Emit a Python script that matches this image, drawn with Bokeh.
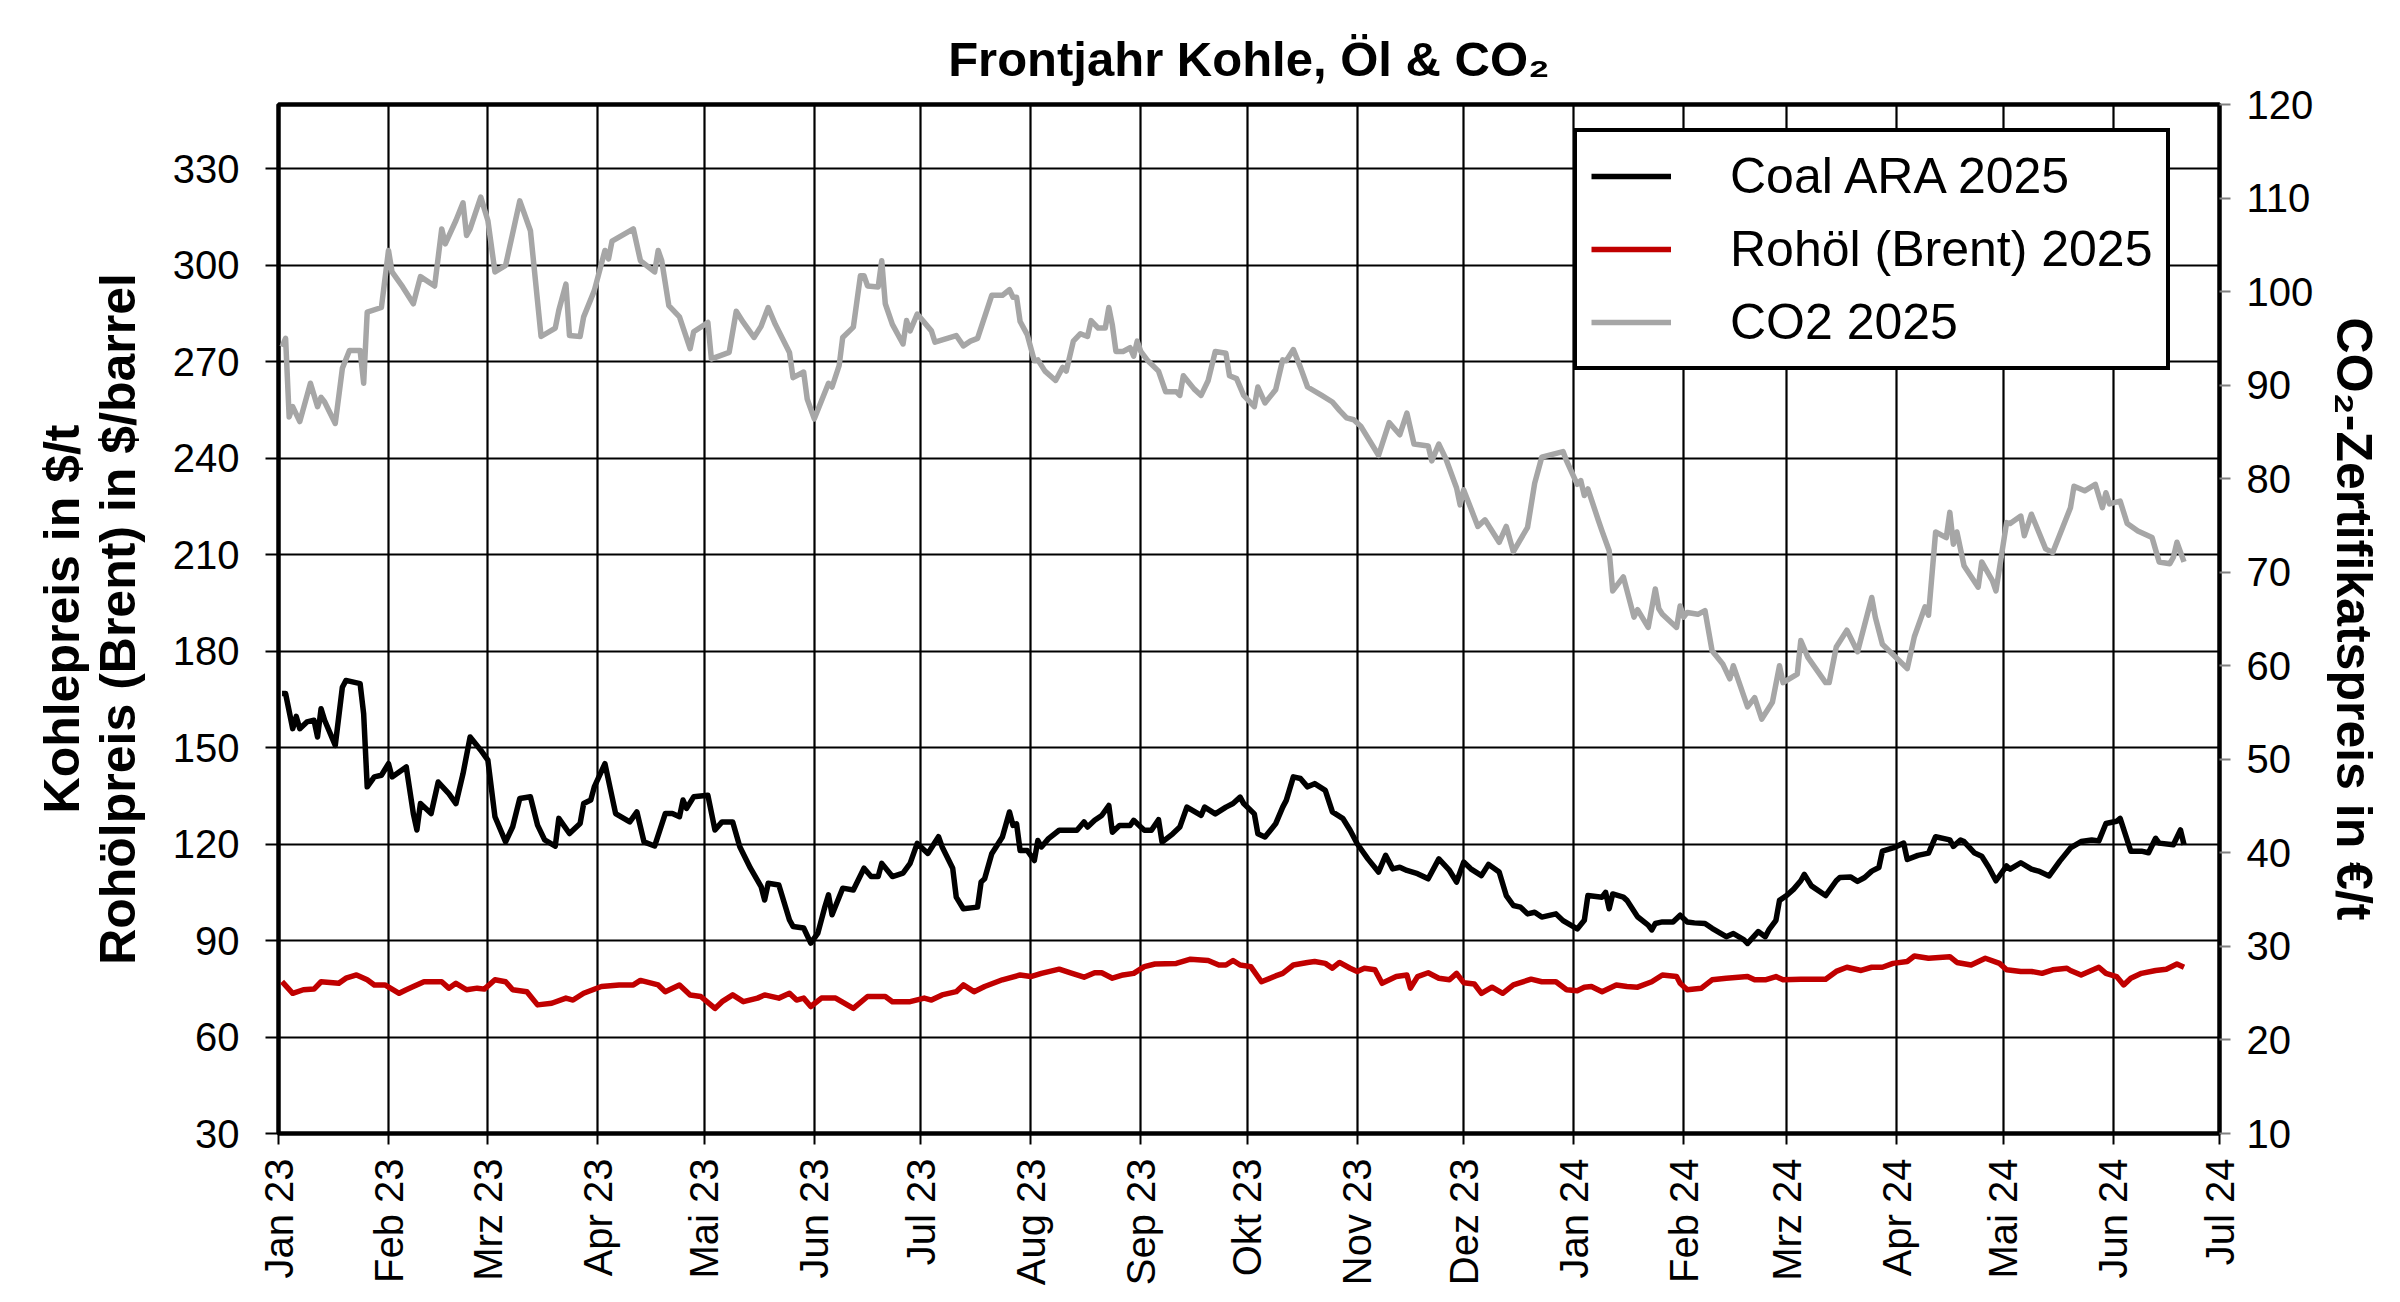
import numpy as np
import pandas as pd
from bokeh.plotting import figure
from bokeh.models import (Range1d, LinearAxis, FixedTicker, CustomJSTickFormatter,
                          Legend, LegendItem)
from bokeh.embed import file_html
from bokeh.resources import INLINE

# ---------------- data ----------------
coal_dates = [
    "2023-01-02", "2023-01-03", "2023-01-05", "2023-01-06", "2023-01-07", "2023-01-09", "2023-01-11",
    "2023-01-12", "2023-01-13", "2023-01-14", "2023-01-17", "2023-01-19", "2023-01-20", "2023-01-24",
    "2023-01-25", "2023-01-26", "2023-01-28", "2023-01-30", "2023-02-01", "2023-02-02", "2023-02-06",
    "2023-02-08", "2023-02-09", "2023-02-10", "2023-02-13", "2023-02-15", "2023-02-18", "2023-02-20",
    "2023-02-22", "2023-02-24", "2023-02-27", "2023-03-01", "2023-03-03", "2023-03-06", "2023-03-08",
    "2023-03-10", "2023-03-13", "2023-03-15", "2023-03-17", "2023-03-20", "2023-03-21", "2023-03-24",
    "2023-03-27", "2023-03-28", "2023-03-30", "2023-03-31", "2023-04-03", "2023-04-06", "2023-04-10",
    "2023-04-12", "2023-04-14", "2023-04-17", "2023-04-20", "2023-04-22", "2023-04-24", "2023-04-25",
    "2023-04-26", "2023-04-28", "2023-05-02", "2023-05-04", "2023-05-06", "2023-05-09", "2023-05-11",
    "2023-05-14", "2023-05-17", "2023-05-18", "2023-05-19", "2023-05-22", "2023-05-25", "2023-05-26",
    "2023-05-29", "2023-05-31", "2023-06-02", "2023-06-04", "2023-06-05", "2023-06-06", "2023-06-09",
    "2023-06-12", "2023-06-15", "2023-06-17", "2023-06-19", "2023-06-20", "2023-06-23", "2023-06-26",
    "2023-06-28", "2023-06-30", "2023-07-03", "2023-07-06", "2023-07-07", "2023-07-10", "2023-07-11",
    "2023-07-13", "2023-07-17", "2023-07-18", "2023-07-19", "2023-07-21", "2023-07-24", "2023-07-26",
    "2023-07-27", "2023-07-28", "2023-07-29", "2023-07-31", "2023-08-02", "2023-08-03", "2023-08-04",
    "2023-08-06", "2023-08-09", "2023-08-14", "2023-08-16", "2023-08-17", "2023-08-19", "2023-08-21",
    "2023-08-23", "2023-08-24", "2023-08-26", "2023-08-29", "2023-08-30", "2023-09-01", "2023-09-02",
    "2023-09-04", "2023-09-06", "2023-09-07", "2023-09-10", "2023-09-12", "2023-09-14", "2023-09-18",
    "2023-09-19", "2023-09-22", "2023-09-25", "2023-09-27", "2023-09-29", "2023-09-30", "2023-10-03",
    "2023-10-04", "2023-10-06", "2023-10-09", "2023-10-11", "2023-10-12", "2023-10-14", "2023-10-16",
    "2023-10-18", "2023-10-20", "2023-10-23", "2023-10-25", "2023-10-28", "2023-10-30", "2023-11-01",
    "2023-11-04", "2023-11-07", "2023-11-09", "2023-11-11", "2023-11-13", "2023-11-15", "2023-11-18",
    "2023-11-21", "2023-11-24", "2023-11-27", "2023-11-29", "2023-12-01", "2023-12-03", "2023-12-06",
    "2023-12-08", "2023-12-11", "2023-12-13", "2023-12-15", "2023-12-17", "2023-12-19", "2023-12-21",
    "2023-12-23", "2023-12-27", "2023-12-29", "2024-01-02", "2024-01-04", "2024-01-05", "2024-01-09",
    "2024-01-10", "2024-01-11", "2024-01-12", "2024-01-15", "2024-01-16", "2024-01-19", "2024-01-22",
    "2024-01-23", "2024-01-24", "2024-01-26", "2024-01-29", "2024-01-31", "2024-02-02", "2024-02-04",
    "2024-02-07", "2024-02-09", "2024-02-13", "2024-02-15", "2024-02-18", "2024-02-19", "2024-02-22",
    "2024-02-24", "2024-02-25", "2024-02-27", "2024-02-28", "2024-03-01", "2024-03-03", "2024-03-05",
    "2024-03-06", "2024-03-08", "2024-03-12", "2024-03-15", "2024-03-16", "2024-03-19", "2024-03-21",
    "2024-03-23", "2024-03-25", "2024-03-27", "2024-03-28", "2024-03-31", "2024-04-03", "2024-04-04",
    "2024-04-07", "2024-04-10", "2024-04-12", "2024-04-16", "2024-04-17", "2024-04-19", "2024-04-20",
    "2024-04-23", "2024-04-25", "2024-04-27", "2024-04-29", "2024-05-02", "2024-05-03", "2024-05-06",
    "2024-05-09", "2024-05-11", "2024-05-14", "2024-05-17", "2024-05-20", "2024-05-23", "2024-05-26",
    "2024-05-28", "2024-05-30", "2024-06-02", "2024-06-03", "2024-06-06", "2024-06-09", "2024-06-11",
    "2024-06-13", "2024-06-14", "2024-06-18", "2024-06-20", "2024-06-21",
]
coal_values = [
    166.8, 166.8, 155.9, 159.7, 155.9, 158.0, 158.5,
    153.3, 162.1, 158.5, 150.7, 168.8, 170.9, 169.9,
    160.5, 137.8, 140.9, 141.4, 145.0, 140.9, 144.0,
    129.5, 124.4, 132.6, 129.5, 139.3, 135.7, 132.6,
    141.9, 153.3, 149.2, 146.1, 128.5, 120.7, 125.4,
    134.2, 134.7, 125.9, 121.3, 119.4, 128.0, 123.3,
    126.4, 132.6, 133.7, 137.8, 145.0, 129.5, 126.9,
    130.0, 120.7, 119.4, 129.5, 129.5, 128.5, 133.7,
    131.1, 134.7, 135.2, 124.4, 126.9, 126.9, 119.2,
    112.5, 106.8, 102.6, 107.8, 107.3, 96.4, 94.4,
    93.9, 89.2, 92.3, 100.6, 104.2, 98.0, 106.3,
    105.7, 112.5, 109.9, 109.9, 114.0, 109.9, 111.0,
    114.0, 120.2, 117.1, 122.3, 119.2, 112.5, 103.5,
    99.9, 100.4, 108.2, 109.2, 117.0, 122.2, 130.0,
    125.8, 126.3, 118.0, 118.0, 114.9, 121.1, 119.1,
    121.7, 124.3, 124.3, 126.9, 125.3, 127.4, 128.9,
    132.0, 123.7, 125.8, 125.8, 127.4, 125.3, 124.3,
    124.3, 127.6, 120.6, 123.2, 125.3, 131.5, 128.9,
    131.5, 129.4, 131.5, 132.6, 134.6, 132.6, 129.4,
    123.2, 122.2, 126.3, 131.5, 133.6, 140.9, 140.4,
    137.8, 138.8, 136.7, 130.0, 127.9, 124.3, 120.1,
    115.4, 111.3, 116.5, 112.3, 112.8, 111.8, 110.8,
    109.2, 115.4, 111.8, 108.2, 114.4, 112.3, 110.2,
    113.7, 111.3, 104.0, 100.9, 100.4, 98.3, 98.8,
    97.3, 98.3, 96.2, 93.6, 96.3, 104.0, 103.5,
    105.0, 99.9, 104.5, 103.5, 102.5, 97.4, 94.8,
    93.3, 95.3, 95.8, 95.8, 97.9, 95.8, 95.5,
    95.3, 93.8, 91.2, 92.2, 90.2, 89.1, 92.8,
    91.2, 93.3, 96.3, 102.5, 104.0, 106.0, 108.6,
    110.6, 107.0, 104.0, 108.6, 109.6, 109.8, 108.4,
    109.6, 111.6, 112.7, 117.8, 118.8, 120.3, 115.2,
    116.5, 117.2, 122.3, 121.3, 119.3, 121.3, 120.8,
    117.2, 116.2, 112.7, 108.6, 113.2, 112.2, 114.2,
    112.2, 111.6, 110.1, 114.7, 118.8, 120.8, 121.3,
    121.0, 126.4, 127.1, 128.0, 117.8, 117.8, 117.3,
    121.8, 120.3, 119.8, 124.4, 119.8,
]

oil_dates = [
    "2023-01-02", "2023-01-05", "2023-01-08", "2023-01-11", "2023-01-13", "2023-01-18", "2023-01-20",
    "2023-01-23", "2023-01-26", "2023-01-28", "2023-01-31", "2023-02-04", "2023-02-06", "2023-02-08",
    "2023-02-11", "2023-02-16", "2023-02-18", "2023-02-20", "2023-02-23", "2023-02-26", "2023-02-28",
    "2023-03-03", "2023-03-06", "2023-03-08", "2023-03-12", "2023-03-15", "2023-03-19", "2023-03-23",
    "2023-03-25", "2023-03-28", "2023-04-02", "2023-04-07", "2023-04-11", "2023-04-13", "2023-04-18",
    "2023-04-20", "2023-04-24", "2023-04-27", "2023-04-30", "2023-05-04", "2023-05-06", "2023-05-09",
    "2023-05-12", "2023-05-16", "2023-05-18", "2023-05-22", "2023-05-25", "2023-05-27", "2023-05-29",
    "2023-05-31", "2023-06-03", "2023-06-07", "2023-06-12", "2023-06-16", "2023-06-21", "2023-06-23",
    "2023-06-28", "2023-07-02", "2023-07-04", "2023-07-07", "2023-07-11", "2023-07-13", "2023-07-16",
    "2023-07-19", "2023-07-24", "2023-07-29", "2023-08-01", "2023-08-04", "2023-08-09", "2023-08-12",
    "2023-08-16", "2023-08-19", "2023-08-21", "2023-08-24", "2023-08-27", "2023-08-30", "2023-09-02",
    "2023-09-05", "2023-09-11", "2023-09-15", "2023-09-20", "2023-09-23", "2023-09-25", "2023-09-27",
    "2023-09-29", "2023-10-02", "2023-10-05", "2023-10-09", "2023-10-11", "2023-10-14", "2023-10-18",
    "2023-10-20", "2023-10-23", "2023-10-25", "2023-10-27", "2023-10-30", "2023-11-01", "2023-11-03",
    "2023-11-06", "2023-11-08", "2023-11-12", "2023-11-15", "2023-11-16", "2023-11-18", "2023-11-21",
    "2023-11-24", "2023-11-27", "2023-11-29", "2023-12-01", "2023-12-04", "2023-12-06", "2023-12-09",
    "2023-12-12", "2023-12-15", "2023-12-20", "2023-12-23", "2023-12-27", "2023-12-30", "2024-01-02",
    "2024-01-04", "2024-01-06", "2024-01-09", "2024-01-13", "2024-01-16", "2024-01-19", "2024-01-23",
    "2024-01-26", "2024-01-30", "2024-01-31", "2024-02-02", "2024-02-06", "2024-02-09", "2024-02-13",
    "2024-02-19", "2024-02-21", "2024-02-24", "2024-02-27", "2024-02-29", "2024-03-05", "2024-03-12",
    "2024-03-15", "2024-03-18", "2024-03-22", "2024-03-25", "2024-03-28", "2024-03-31", "2024-04-04",
    "2024-04-06", "2024-04-10", "2024-04-16", "2024-04-18", "2024-04-22", "2024-04-26", "2024-04-30",
    "2024-05-02", "2024-05-06", "2024-05-09", "2024-05-12", "2024-05-15", "2024-05-19", "2024-05-20",
    "2024-05-23", "2024-05-28", "2024-05-30", "2024-06-02", "2024-06-04", "2024-06-06", "2024-06-09",
    "2024-06-13", "2024-06-16", "2024-06-19", "2024-06-21",
]
oil_values = [
    77.2, 73.6, 74.7, 74.9, 77.2, 76.7, 78.3,
    79.3, 77.8, 76.2, 76.2, 73.6, 74.7, 75.7,
    77.2, 77.2, 75.2, 76.7, 74.7, 75.2, 74.9,
    77.8, 77.2, 74.7, 74.1, 70.0, 70.5, 72.1,
    71.5, 73.6, 75.7, 76.2, 76.2, 77.6, 76.2,
    74.1, 76.2, 73.1, 72.6, 68.9, 71.0, 73.1,
    71.0, 72.1, 73.1, 72.1, 73.6, 71.5, 72.1,
    69.5, 72.1, 72.1, 68.9, 72.6, 72.6, 71.0,
    71.0, 72.1, 71.5, 73.1, 74.1, 76.2, 74.1,
    75.7, 77.8, 79.3, 78.8, 79.8, 81.1, 80.0,
    78.6, 80.0, 80.0, 78.3, 79.3, 79.8, 81.9,
    82.7, 82.9, 84.2, 83.8, 82.4, 82.4, 83.8,
    82.4, 81.9, 77.2, 79.0, 79.8, 82.4, 83.2,
    83.5, 82.9, 81.4, 83.2, 81.4, 80.4, 81.4,
    80.9, 76.7, 78.8, 79.3, 75.2, 78.8, 80.0,
    78.3, 77.8, 79.8, 76.9, 76.5, 73.6, 75.5,
    73.6, 76.2, 78.0, 77.2, 77.2, 74.7, 74.4,
    75.5, 75.7, 74.1, 76.2, 75.7, 75.5, 77.2,
    79.3, 78.8, 76.7, 74.7, 75.2, 77.8, 78.3,
    78.8, 77.8, 77.8, 78.8, 77.8, 78.0, 78.0,
    80.4, 81.7, 80.7, 81.7, 81.7, 82.9, 83.5,
    85.2, 84.5, 85.0, 83.2, 82.4, 84.5, 82.9,
    80.9, 80.4, 80.4, 79.8, 80.9, 81.4, 80.7,
    79.3, 81.7, 79.8, 78.8, 76.2, 78.3, 79.8,
    80.7, 81.1, 82.7, 81.7,
]

co2_dates = [
    "2023-01-02", "2023-01-03", "2023-01-04", "2023-01-05", "2023-01-07", "2023-01-10", "2023-01-12",
    "2023-01-13", "2023-01-14", "2023-01-17", "2023-01-19", "2023-01-21", "2023-01-24", "2023-01-25",
    "2023-01-26", "2023-01-30", "2023-02-01", "2023-02-02", "2023-02-05", "2023-02-08", "2023-02-10",
    "2023-02-14", "2023-02-16", "2023-02-17", "2023-02-20", "2023-02-22", "2023-02-23", "2023-02-24",
    "2023-02-27", "2023-03-01", "2023-03-03", "2023-03-06", "2023-03-10", "2023-03-13", "2023-03-16",
    "2023-03-20", "2023-03-21", "2023-03-23", "2023-03-24", "2023-03-27", "2023-03-28", "2023-03-31",
    "2023-04-03", "2023-04-04", "2023-04-05", "2023-04-11", "2023-04-13", "2023-04-17", "2023-04-18",
    "2023-04-19", "2023-04-21", "2023-04-24", "2023-04-27", "2023-04-28", "2023-05-02", "2023-05-03",
    "2023-05-08", "2023-05-10", "2023-05-12", "2023-05-15", "2023-05-17", "2023-05-19", "2023-05-21",
    "2023-05-25", "2023-05-26", "2023-05-29", "2023-05-30", "2023-06-01", "2023-06-05", "2023-06-06",
    "2023-06-08", "2023-06-09", "2023-06-12", "2023-06-14", "2023-06-15", "2023-06-16", "2023-06-19",
    "2023-06-20", "2023-06-21", "2023-06-23", "2023-06-26", "2023-06-27", "2023-06-28", "2023-06-30",
    "2023-07-04", "2023-07-05", "2023-07-11", "2023-07-13", "2023-07-15", "2023-07-17", "2023-07-21",
    "2023-07-24", "2023-07-26", "2023-07-27", "2023-07-28", "2023-07-29", "2023-07-31", "2023-08-02",
    "2023-08-03", "2023-08-05", "2023-08-08", "2023-08-10", "2023-08-11", "2023-08-13", "2023-08-15",
    "2023-08-17", "2023-08-18", "2023-08-20", "2023-08-22", "2023-08-23", "2023-08-24", "2023-08-25",
    "2023-08-27", "2023-08-29", "2023-08-30", "2023-08-31", "2023-09-01", "2023-09-03", "2023-09-06",
    "2023-09-08", "2023-09-11", "2023-09-12", "2023-09-13", "2023-09-16", "2023-09-18", "2023-09-20",
    "2023-09-22", "2023-09-25", "2023-09-26", "2023-09-28", "2023-09-30", "2023-10-03", "2023-10-04",
    "2023-10-06", "2023-10-09", "2023-10-11", "2023-10-12", "2023-10-14", "2023-10-16", "2023-10-18",
    "2023-10-22", "2023-10-25", "2023-10-27", "2023-10-29", "2023-10-31", "2023-11-02", "2023-11-07",
    "2023-11-10", "2023-11-13", "2023-11-15", "2023-11-17", "2023-11-21", "2023-11-22", "2023-11-24",
    "2023-11-26", "2023-11-29", "2023-11-30", "2023-12-01", "2023-12-05", "2023-12-07", "2023-12-11",
    "2023-12-13", "2023-12-15", "2023-12-19", "2023-12-21", "2023-12-23", "2023-12-26", "2023-12-29",
    "2023-12-30", "2024-01-02", "2024-01-03", "2024-01-04", "2024-01-05", "2024-01-08", "2024-01-09",
    "2024-01-11", "2024-01-12", "2024-01-15", "2024-01-18", "2024-01-19", "2024-01-22", "2024-01-24",
    "2024-01-25", "2024-01-26", "2024-01-30", "2024-01-31", "2024-02-01", "2024-02-02", "2024-02-05",
    "2024-02-07", "2024-02-09", "2024-02-12", "2024-02-14", "2024-02-15", "2024-02-19", "2024-02-21",
    "2024-02-23", "2024-02-26", "2024-02-28", "2024-02-29", "2024-03-04", "2024-03-05", "2024-03-07",
    "2024-03-12", "2024-03-13", "2024-03-15", "2024-03-18", "2024-03-21", "2024-03-25", "2024-03-26",
    "2024-03-28", "2024-04-04", "2024-04-06", "2024-04-09", "2024-04-10", "2024-04-12", "2024-04-15",
    "2024-04-16", "2024-04-17", "2024-04-18", "2024-04-20", "2024-04-24", "2024-04-25", "2024-04-28",
    "2024-04-29", "2024-05-02", "2024-05-03", "2024-05-06", "2024-05-07", "2024-05-09", "2024-05-13",
    "2024-05-15", "2024-05-20", "2024-05-21", "2024-05-24", "2024-05-27", "2024-05-29", "2024-05-30",
    "2024-05-31", "2024-06-03", "2024-06-05", "2024-06-08", "2024-06-12", "2024-06-14", "2024-06-17",
    "2024-06-18", "2024-06-19", "2024-06-21",
]
co2_values = [
    94.1, 95.0, 86.6, 87.7, 86.1, 90.2, 87.7,
    88.7, 88.2, 85.9, 91.8, 93.7, 93.7, 90.2,
    97.8, 98.3, 104.4, 102.1, 100.5, 98.7, 101.6,
    100.6, 106.7, 105.1, 107.6, 109.5, 106.0, 106.7,
    110.1, 107.6, 102.1, 102.8, 109.7, 106.5, 95.2,
    96.1, 98.0, 100.8, 95.3, 95.2, 97.3, 100.1,
    104.4, 103.5, 105.4, 106.7, 103.3, 102.1, 104.4,
    103.3, 98.5, 97.3, 93.9, 95.7, 96.7, 92.8,
    93.5, 97.9, 96.7, 95.1, 96.3, 98.3, 96.5,
    93.5, 90.8, 91.4, 88.5, 86.4, 90.2, 89.8,
    92.1, 95.1, 96.2, 101.7, 101.7, 100.6, 100.5,
    103.3, 98.7, 96.5, 94.4, 96.9, 95.8, 97.6,
    95.8, 94.6, 95.3, 94.2, 94.7, 95.0, 99.6,
    99.6, 100.2, 99.4, 99.4, 96.8, 95.4, 92.6,
    92.7, 91.5, 90.5, 91.9, 91.5, 94.7, 95.5,
    95.2, 96.9, 96.1, 96.1, 98.3, 96.4, 93.6,
    93.6, 94.0, 93.1, 94.7, 93.6, 92.6, 91.5,
    89.3, 89.3, 88.9, 91.0, 89.6, 88.9, 90.5,
    93.6, 93.4, 91.0, 90.7, 88.9, 87.7, 89.8,
    88.1, 89.5, 92.7, 92.6, 93.8, 91.9, 89.8,
    88.9, 88.2, 87.3, 86.5, 86.3, 85.6, 82.5,
    86.0, 84.7, 87.0, 83.7, 83.5, 81.9, 83.7,
    82.1, 79.0, 77.2, 78.8, 74.9, 75.6, 73.2,
    74.9, 72.2, 74.8, 79.5, 82.3, 82.6, 82.9,
    81.9, 79.4, 79.8, 78.2, 78.9, 75.5, 74.4,
    72.3, 68.0, 69.5, 65.2, 66.0, 64.1, 68.2,
    66.1, 65.5, 64.1, 66.4, 65.2, 65.7, 65.5,
    65.9, 61.6, 60.2, 58.6, 60.0, 55.6, 56.6,
    54.3, 56.1, 60.0, 58.2, 59.1, 62.7, 60.9,
    58.2, 58.2, 62.0, 63.8, 61.5, 67.3, 65.2,
    62.3, 59.7, 63.1, 66.3, 65.4, 74.3, 73.7,
    76.4, 73.0, 74.3, 70.7, 68.4, 71.1, 69.1,
    68.0, 75.3, 75.2, 76.0, 73.9, 76.2, 72.5,
    72.1, 76.9, 79.2, 78.7, 79.4, 76.9, 78.5,
    77.3, 77.6, 75.2, 74.4, 73.7, 71.1, 70.9,
    71.6, 73.2, 71.1,
]

month_dates = ["2023-01-01", "2023-02-01", "2023-03-01", "2023-04-01", "2023-05-01", "2023-06-01",
               "2023-07-01", "2023-08-01", "2023-09-01", "2023-10-01", "2023-11-01", "2023-12-01",
               "2024-01-01", "2024-02-01", "2024-03-01", "2024-04-01", "2024-05-01", "2024-06-01",
               "2024-07-01"]
month_labels = ["Jan 23", "Feb 23", "Mrz 23", "Apr 23", "Mai 23", "Jun 23", "Jul 23", "Aug 23",
                "Sep 23", "Okt 23", "Nov 23", "Dez 23", "Jan 24", "Feb 24", "Mrz 24", "Apr 24",
                "Mai 24", "Jun 24", "Jul 24"]
left_ticks = [30, 60, 90, 120, 150, 180, 210, 240, 270, 300, 330]
right_ticks = [10, 20, 30, 40, 50, 60, 70, 80, 90, 100, 110, 120]

series_names = ["Coal ARA 2025", "Rohöl (Brent) 2025", "CO2 2025"]

# ---------------- figure ----------------
FONT = "Liberation Sans"
month_ms = [pd.Timestamp(d).value / 1e6 for d in month_dates]

p = figure(width=2392, height=1294, x_axis_type="datetime",
           x_range=Range1d(month_ms[0], month_ms[-1]),
           y_range=Range1d(30, 350),
           output_backend="svg", toolbar_location=None,
           min_border_left=278, min_border_right=173, min_border_top=104, min_border_bottom=161)
p.extra_y_ranges = {"co2": Range1d(10, 120)}

p.title.text = "Frontjahr Kohle, Öl & CO₂"
p.title.text_font = FONT
p.title.text_font_size = "49px"
p.title.text_font_style = "bold"
p.title.align = "center"
p.title.text_color = "black"
p.title.standoff = 37

p.outline_line_color = "black"
p.outline_line_width = 4.5
p.background_fill_color = "white"
p.border_fill_color = "white"

# grid
p.xgrid.ticker = FixedTicker(ticks=month_ms)
p.ygrid.ticker = FixedTicker(ticks=left_ticks)
for g in (p.xgrid[0], p.ygrid[0]):
    g.grid_line_color = "black"
    g.grid_line_width = 2.2
    g.grid_line_alpha = 1.0

# x axis
xax = p.xaxis[0]
xax.ticker = FixedTicker(ticks=month_ms)
xax.formatter = CustomJSTickFormatter(
    args=dict(ticks_all=month_ms, labels=month_labels),
    code="""
    let best = -1, bd = 1e18;
    for (let i = 0; i < ticks_all.length; i++) {
        const d = Math.abs(ticks_all[i] - tick);
        if (d < bd) { bd = d; best = i; }
    }
    return best >= 0 ? labels[best] : "";
    """)
xax.major_label_orientation = np.pi / 2

# left axis
yax = p.yaxis[0]
yax.ticker = FixedTicker(ticks=left_ticks)
yax.axis_label = "Kohlepreis in $/t\nRohölpreis (Brent) in $/barrel"

# right axis
rax = LinearAxis(y_range_name="co2", ticker=FixedTicker(ticks=right_ticks))
rax.axis_label = "CO₂-Zertifikatspreis in €/t"
p.add_layout(rax, "right")

for ax in (xax, yax, rax):
    ax.major_label_text_font = FONT
    ax.major_label_text_font_size = "40px"
    ax.major_label_text_color = "black"
    ax.major_tick_out = 11
    ax.major_tick_in = 0
    ax.major_tick_line_width = 2
    ax.major_tick_line_color = "black"
    ax.minor_tick_line_color = None
    ax.axis_line_color = None
    ax.major_label_standoff = 12
    ax.axis_label_text_font = FONT
    ax.axis_label_text_font_size = "50px"
    ax.axis_label_text_font_style = "bold"
    ax.axis_label_text_color = "black"
rax.major_tick_line_color = "#808080"
rax.major_label_standoff = 16
yax.major_tick_out = 13
yax.major_label_standoff = 26
yax.axis_label_standoff = 24
yax.axis_label_text_line_height = 1.0
rax.axis_label_standoff = 10
xax.major_label_standoff = 14

# data
coal_x = pd.to_datetime(coal_dates)
oil_x = pd.to_datetime(oil_dates)
co2_x = pd.to_datetime(co2_dates)

r_co2 = p.line(co2_x, co2_values, y_range_name="co2", line_color="#A6A6A6", line_width=5.5,
               line_join="round")
r_oil = p.line(oil_x, oil_values, line_color="#C00000", line_width=5.5, line_join="round")
r_coal = p.line(coal_x, coal_values, line_color="black", line_width=5.5, line_join="round")

legend = Legend(items=[LegendItem(label=series_names[0], renderers=[r_coal]),
                       LegendItem(label=series_names[1], renderers=[r_oil]),
                       LegendItem(label=series_names[2], renderers=[r_co2])],
                location=(1295, 763))
legend.margin = 0
legend.padding = 14
legend.spacing = 13
legend.glyph_width = 80
legend.glyph_height = 60
legend.label_height = 60
legend.label_standoff = 59
legend.label_text_font = FONT
legend.label_text_font_size = "50px"
legend.label_text_color = "black"
legend.border_line_color = "black"
legend.border_line_width = 4
legend.border_line_alpha = 1.0
legend.background_fill_color = "white"
legend.background_fill_alpha = 1.0
p.add_layout(legend)

open("out.html", "w").write(file_html(p, INLINE))
